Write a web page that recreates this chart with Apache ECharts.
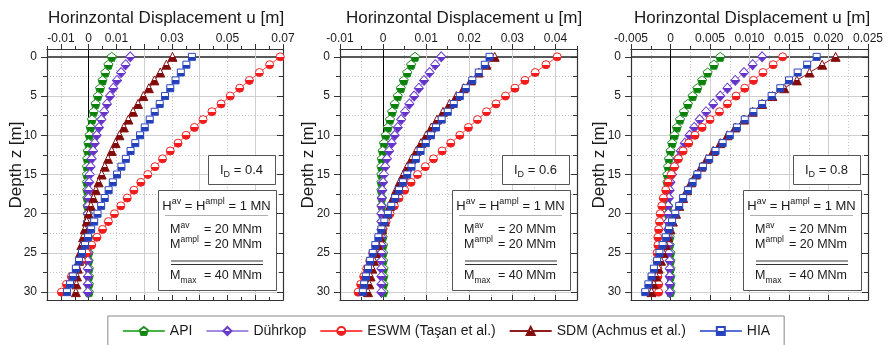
<!DOCTYPE html>
<html>
<head>
<meta charset="utf-8">
<script src="https://cdn.jsdelivr.net/npm/echarts@6/dist/echarts.min.js"></script>
<style>
  html, body { margin: 0; padding: 0; background: #fff; }
  #chart { width: 892px; height: 345px; }
</style>
</head>
<body>
<div id="chart"></div>
<script>
// Depth below mudline [m]
const depthZ = [0,1,2,3,4,5,6,7,8,9,10,11,12,13,14,15,16,17,18,19,20,21,22,23,24,25,26,27,28,29,30];

// Horizontal displacement u [m], relative density I_D = 0.4
const api04  = [0.0083,0.0071,0.0060,0.0050,0.0041,0.0033,0.0025,0.0018,0.0012,0.0007,0.0003,-0.0001,-0.0003,-0.0005,-0.0006,-0.0006,-0.0006,-0.0005,-0.0005,-0.0004,-0.0003,-0.0003,-0.0002,-0.0001,-0.0001,0.0000,0.0000,0.0001,0.0001,0.0001,0.0001];
const duhr04 = [0.0150,0.0133,0.0117,0.0102,0.0089,0.0077,0.0066,0.0056,0.0046,0.0037,0.0029,0.0022,0.0016,0.0011,0.0007,0.0004,0.0002,0.0000,-0.0001,-0.0002,-0.0003,-0.0003,-0.0003,-0.0003,-0.0003,-0.0003,-0.0003,-0.0003,-0.0003,-0.0003,-0.0003];
const eswm04 = [0.0690,0.0652,0.0615,0.0579,0.0544,0.0510,0.0477,0.0444,0.0412,0.0381,0.0351,0.0322,0.0294,0.0266,0.0239,0.0213,0.0188,0.0163,0.0139,0.0116,0.0093,0.0071,0.0050,0.0030,0.0011,-0.0008,-0.0026,-0.0044,-0.0062,-0.0080,-0.0098];
const sdm04  = [0.0302,0.0280,0.0258,0.0237,0.0217,0.0197,0.0178,0.0160,0.0143,0.0127,0.0111,0.0097,0.0083,0.0070,0.0058,0.0047,0.0036,0.0026,0.0017,0.0008,0.0000,-0.0007,-0.0014,-0.0020,-0.0026,-0.0031,-0.0035,-0.0039,-0.0042,-0.0044,-0.0046];
const hia04  = [0.0372,0.0352,0.0332,0.0313,0.0294,0.0275,0.0256,0.0238,0.0220,0.0202,0.0185,0.0168,0.0151,0.0134,0.0118,0.0102,0.0087,0.0072,0.0058,0.0045,0.0032,0.0020,0.0009,-0.0002,-0.0013,-0.0024,-0.0035,-0.0046,-0.0057,-0.0067,-0.0078];

// I_D = 0.6
const api06  = [0.0074,0.0065,0.0056,0.0048,0.0041,0.0034,0.0027,0.0021,0.0016,0.0011,0.0006,0.0002,-0.0001,-0.0003,-0.0004,-0.0004,-0.0004,-0.0004,-0.0003,-0.0003,-0.0002,-0.0002,-0.0001,-0.0001,0.0000,0.0000,0.0000,0.0001,0.0001,0.0001,0.0001];
const duhr06 = [0.0135,0.0121,0.0108,0.0095,0.0083,0.0072,0.0061,0.0051,0.0042,0.0034,0.0027,0.0020,0.0014,0.0009,0.0005,0.0002,0.0000,-0.0002,-0.0003,-0.0004,-0.0004,-0.0004,-0.0004,-0.0004,-0.0004,-0.0004,-0.0004,-0.0004,-0.0004,-0.0004,-0.0004];
const eswm06 = [0.0404,0.0378,0.0353,0.0329,0.0306,0.0284,0.0262,0.0240,0.0219,0.0198,0.0178,0.0157,0.0137,0.0117,0.0098,0.0080,0.0065,0.0050,0.0037,0.0026,0.0016,0.0007,-0.0001,-0.0009,-0.0017,-0.0024,-0.0031,-0.0038,-0.0045,-0.0052,-0.0058];
const sdm06  = [0.0259,0.0240,0.0222,0.0204,0.0187,0.0170,0.0154,0.0139,0.0125,0.0112,0.0100,0.0088,0.0077,0.0066,0.0056,0.0047,0.0038,0.0030,0.0023,0.0016,0.0010,0.0004,-0.0002,-0.0007,-0.0012,-0.0017,-0.0021,-0.0025,-0.0029,-0.0032,-0.0035];
const hia06  = [0.0247,0.0236,0.0222,0.0207,0.0192,0.0178,0.0164,0.0150,0.0136,0.0123,0.0111,0.0099,0.0087,0.0076,0.0066,0.0056,0.0046,0.0037,0.0028,0.0019,0.0011,0.0003,-0.0004,-0.0011,-0.0018,-0.0024,-0.0030,-0.0035,-0.0040,-0.0044,-0.0047];

// I_D = 0.8
const api08  = [0.0063,0.0055,0.0047,0.0040,0.0034,0.0028,0.0022,0.0017,0.0012,0.0008,0.0005,0.0002,0.0000,-0.0002,-0.0003,-0.0004,-0.0004,-0.0004,-0.0004,-0.0003,-0.0003,-0.0002,-0.0002,-0.0001,-0.0001,0.0000,0.0000,0.0000,0.0000,0.0000,0.0000];
const duhr08 = [0.0116,0.0104,0.0093,0.0082,0.0072,0.0063,0.0054,0.0045,0.0037,0.0030,0.0024,0.0018,0.0013,0.0009,0.0005,0.0002,0.0000,-0.0001,-0.0002,-0.0003,-0.0003,-0.0003,-0.0003,-0.0003,-0.0002,-0.0002,-0.0001,-0.0001,-0.0001,-0.0001,-0.0001];
const eswm08 = [0.0142,0.0130,0.0117,0.0105,0.0094,0.0083,0.0072,0.0062,0.0050,0.0040,0.0031,0.0023,0.0016,0.0010,0.0005,0.0001,-0.0003,-0.0006,-0.0009,-0.0011,-0.0013,-0.0014,-0.0015,-0.0016,-0.0016,-0.0017,-0.0017,-0.0016,-0.0016,-0.0015,-0.0015];
const sdm08  = [0.0209,0.0192,0.0176,0.0160,0.0144,0.0129,0.0116,0.0104,0.0093,0.0082,0.0072,0.0063,0.0054,0.0046,0.0039,0.0032,0.0026,0.0021,0.0016,0.0011,0.0007,0.0003,0.0000,-0.0003,-0.0006,-0.0009,-0.0012,-0.0015,-0.0018,-0.0021,-0.0024];
const hia08  = [0.0185,0.0173,0.0161,0.0150,0.0139,0.0128,0.0116,0.0105,0.0094,0.0084,0.0075,0.0066,0.0057,0.0049,0.0041,0.0034,0.0028,0.0022,0.0016,0.0011,0.0006,0.0002,-0.0002,-0.0006,-0.0010,-0.0014,-0.0017,-0.0021,-0.0024,-0.0028,-0.0032];

// Tick labels
const xTickLabels04 = [-0.01, 0, 0.01, 0.03, 0.05, 0.07];
const xTickLabels06 = [-0.01, 0, 0.01, 0.02, 0.03, 0.04];
const xTickLabels08 = [-0.005, 0, 0.005, 0.010, 0.015, 0.020, 0.025];
const yTickLabels = [0, 5, 10, 15, 20, 25, 30];

const seriesNames = ['API', 'Dührkop', 'ESWM (Taşan et al.)', 'SDM (Achmus et al.)', 'HIA'];
const densityLabels = ['0.4', '0.6', '0.8'];

const FONT = "'Liberation Sans', Arial, Helvetica, sans-serif";
const TXT = '#1a1a1a';
const FRAME = { color: '#333', width: 1.2 };

function steps(a, b, s) {
  const out = [];
  const n = Math.round((b - a) / s);
  for (let i = 0; i <= n; i++) out.push(+(a + i * s).toFixed(6));
  return out;
}

const panels = [
  { left: 47, width: 236, xMin: -0.015, xMax: 0.07, labels: xTickLabels04, dec: 2,
    major: steps(-0.01, 0.07, 0.01), minor: steps(-0.015, 0.065, 0.01),
    solid: [0.02, 0.04, 0.06], dotted: [-0.01, 0.01, 0.03, 0.05],
    data: [api04, duhr04, eswm04, sdm04, hia04], titleX: 166, depthX: 16 },
  { left: 340, width: 237, xMin: -0.01, xMax: 0.045, labels: xTickLabels06, dec: 2,
    major: steps(-0.01, 0.04, 0.01), minor: steps(-0.005, 0.045, 0.01),
    solid: steps(0.01, 0.04, 0.01), dotted: steps(-0.005, 0.035, 0.01),
    data: [api06, duhr06, eswm06, sdm06, hia06], titleX: 464, depthX: 308 },
  { left: 631, width: 237, xMin: -0.005, xMax: 0.025, labels: xTickLabels08, dec: 3,
    major: steps(-0.005, 0.025, 0.005), minor: steps(-0.0025, 0.0225, 0.005),
    solid: steps(0.005, 0.02, 0.005), dotted: steps(-0.0025, 0.0225, 0.005),
    data: [api08, duhr08, eswm08, sdm08, hia08], titleX: 752, depthX: 599 }
];

const GRID_TOP = 49, GRID_H = 251;
const Y_MIN = -1, Y_MAX = 31;
const yMajor = steps(0, 30, 5), yMinor = steps(2.5, 27.5, 5);

const solidGrid = { color: '#cfcfcf', width: 1, type: 'solid' };
const dottedGrid = { color: '#c4c4c4', width: 1, type: [1, 2] };

// Builds one value axis; only the parts asked for are shown
function axis(dim, gi, pos, o) {
  const isX = dim === 'x';
  return {
    type: 'value', gridIndex: gi, position: pos,
    min: isX ? o.min : Y_MIN, max: isX ? o.max : Y_MAX,
    inverse: !isX,
    axisLine: { show: !!o.line, onZero: false, lineStyle: FRAME },
    axisTick: { show: !!o.ticks, customValues: o.ticks || o.lines || [0],
      inside: !!o.inside, length: o.len || 4, lineStyle: { color: '#333', width: 1 } },
    axisLabel: o.labels ? { show: true, customValues: o.labels, formatter: o.fmt,
      margin: isX ? 4 : 10, fontSize: 12, color: TXT, fontFamily: FONT } : { show: false },
    splitLine: o.split ? { show: true, lineStyle: o.split } : { show: false }
  };
}

const xAxes = [], yAxes = [], grids = [], series = [];
const markers = [
  { symbol: 'path://M0,-10L9.51,-3.09L5.88,8.09L-5.88,8.09L-9.51,-3.09Z', size: 9, line: '#45b345', fill: '#0b800b', edge: '#1c8c1c' },
  { symbol: 'diamond', size: [9, 10], line: '#a58ce0', fill: '#6434c8', edge: '#6a3ccc' },
  { symbol: 'circle', size: 8, line: '#ff4a4a', fill: '#f21c1c', edge: '#ee2222' },
  { symbol: 'triangle', size: 9, line: '#8e1d1d', fill: '#820a0a', edge: '#861010' },
  { symbol: 'rect', size: 7, line: '#5a6fd6', fill: '#2440b8', edge: '#2a46c0' }
];

function halfFill(c) {
  return { type: 'linear', x: 0, y: 0, x2: 0, y2: 1, colorStops: [
    { offset: 0, color: '#ffffff' }, { offset: 0.5, color: '#ffffff' },
    { offset: 0.5, color: c }, { offset: 1, color: c } ] };
}

panels.forEach((p, gi) => {
  grids.push({ left: p.left, top: GRID_TOP, width: p.width, height: GRID_H,
    containLabel: false, outerBoundsMode: 'none' });
  const fmt = v => Math.abs(v) < 1e-12 ? '0' : v.toFixed(p.dec);
  const xr = { min: p.xMin, max: p.xMax };

  const xMain = xAxes.length;
  xAxes.push(axis('x', gi, 'top', Object.assign({ line: true, ticks: p.major, len: 5, labels: p.labels, fmt }, xr)));
  xAxes.push(axis('x', gi, 'top', Object.assign({ ticks: p.minor, len: 3 }, xr)));
  xAxes.push(axis('x', gi, 'bottom', Object.assign({ line: true, ticks: p.major, len: 5, inside: true }, xr)));
  xAxes.push(axis('x', gi, 'bottom', Object.assign({ ticks: p.minor, len: 3, inside: true }, xr)));
  xAxes.push(axis('x', gi, 'bottom', Object.assign({ lines: p.solid, split: solidGrid }, xr)));
  xAxes.push(axis('x', gi, 'bottom', Object.assign({ lines: p.dotted, split: dottedGrid }, xr)));
  xAxes.push(axis('x', gi, 'bottom', Object.assign({ lines: [0], split: { color: '#000', width: 1 } }, xr)));

  const yMain = yAxes.length;
  yAxes.push(axis('y', gi, 'left', { line: true, ticks: yMajor, len: 6, labels: yTickLabels, fmt: v => String(v) }));
  yAxes.push(axis('y', gi, 'left', { ticks: yMinor, len: 4 }));
  yAxes.push(axis('y', gi, 'right', { line: true, ticks: yMajor, len: 6, inside: true }));
  yAxes.push(axis('y', gi, 'right', { ticks: yMinor, len: 4, inside: true }));
  yAxes.push(axis('y', gi, 'right', { lines: yMajor.slice(1), split: solidGrid }));
  yAxes.push(axis('y', gi, 'right', { lines: yMinor, split: dottedGrid }));
  yAxes.push(axis('y', gi, 'right', { lines: [0], split: { color: '#222', width: 1.5 } }));

  p.data.forEach((vals, si) => {
    const m = markers[si];
    series.push({
      type: 'line', name: seriesNames[si],
      xAxisIndex: xMain, yAxisIndex: yMain,
      data: vals.map((u, i) => [u, depthZ[i]]),
      symbol: m.symbol, symbolSize: m.size, showSymbol: true,
      lineStyle: { color: m.line, width: 1 },
      itemStyle: { color: halfFill(m.fill), borderColor: m.edge, borderWidth: 1 },
      z: 3 + si, animation: false, silent: true
    });
  });
});

const RICH = {
  n:  { fontSize: 13, fontFamily: FONT, fill: TXT, lineHeight: 18 },
  sp: { fontSize: 9, fontFamily: FONT, fill: TXT, lineHeight: 10, verticalAlign: 'top' },
  sb: { fontSize: 9, fontFamily: FONT, fill: TXT, lineHeight: 10, verticalAlign: 'bottom' },
  m:  { fontSize: 12.5, fontFamily: FONT, fill: TXT, lineHeight: 18 },
  mp: { fontSize: 8.5, fontFamily: FONT, fill: TXT, lineHeight: 10, verticalAlign: 'top' },
  mb: { fontSize: 8.5, fontFamily: FONT, fill: TXT, lineHeight: 10, verticalAlign: 'bottom' }
};

function txt(x, y, text, align, extra) {
  return Object.assign({ type: 'text', x, y, z: 101,
    style: { text, rich: RICH, fill: TXT, align, verticalAlign: 'middle',
      textAlign: align, textVerticalAlign: 'middle' } }, extra || {});
}

const graphics = [];
panels.forEach((p, gi) => {
  const R = p.left + p.width;
  const idL = R - 75, ldL = R - 125;
  // axis titles
  graphics.push({ type: 'text', x: p.titleX, y: 18, z: 101,
    style: { text: 'Horinzontal Displacement u [m]', fontSize: 17, fontFamily: FONT, fill: TXT,
      align: 'center', verticalAlign: 'middle', textAlign: 'center', textVerticalAlign: 'middle' } });
  graphics.push({ type: 'text', x: p.depthX, y: 165, rotation: Math.PI / 2, z: 101,
    style: { text: 'Depth z [m]', fontSize: 17, fontFamily: FONT, fill: TXT,
      align: 'center', verticalAlign: 'middle', textAlign: 'center', textVerticalAlign: 'middle' } });
  // relative density box
  graphics.push({ type: 'rect', z: 100, shape: { x: idL + 0.5, y: 155.5, width: 67, height: 29 },
    style: { fill: '#fff', stroke: '#555', lineWidth: 1 } });
  graphics.push(txt(idL + 33.5, 170, '{n|I}{sb|D}{n| = ' + densityLabels[gi] + '}', 'center'));
  // loading box
  graphics.push({ type: 'rect', z: 100, shape: { x: ldL + 0.5, y: 190.5, width: 118, height: 100 },
    style: { fill: '#fff', stroke: '#555', lineWidth: 1 } });
  graphics.push(txt(ldL + 58.5, 206, '{n|H}{sp|av}{n| = H}{sp|ampl}{n| = 1 MN}', 'center'));
  graphics.push({ type: 'line', z: 101, shape: { x1: ldL + 7, y1: 215.5, x2: ldL + 110, y2: 215.5 },
    style: { stroke: '#9a9a9a', lineWidth: 0.8 } });
  graphics.push(txt(ldL + 12, 230, '{m|M}{mp|av}', 'left'));
  graphics.push(txt(ldL + 46, 230, '{m|= 20 MNm}', 'left'));
  graphics.push(txt(ldL + 12, 244.5, '{m|M}{mp|ampl}', 'left'));
  graphics.push(txt(ldL + 46, 244.5, '{m|= 20 MNm}', 'left'));
  graphics.push({ type: 'line', z: 101, shape: { x1: ldL + 13, y1: 261, x2: ldL + 105, y2: 261 },
    style: { stroke: '#333', lineWidth: 1 } });
  graphics.push({ type: 'line', z: 101, shape: { x1: ldL + 13, y1: 264.5, x2: ldL + 105, y2: 264.5 },
    style: { stroke: '#333', lineWidth: 1 } });
  graphics.push(txt(ldL + 12, 276, '{m|M}{mb|max}', 'left'));
  graphics.push(txt(ldL + 46, 276, '{m|= 40 MNm}', 'left'));
});

const chart = echarts.init(document.getElementById('chart'), null, { renderer: 'canvas' });
chart.setOption({
  animation: false,
  backgroundColor: '#ffffff',
  grid: grids,
  xAxis: xAxes,
  yAxis: yAxes,
  legend: {
    data: seriesNames, left: 'center', top: 316,
    padding: [8, 14, 8, 14], itemGap: 13, itemWidth: 42, itemHeight: 10,
    borderColor: '#888', borderWidth: 1, borderRadius: 0,
    textStyle: { fontSize: 14, fontFamily: FONT, color: TXT },
    selectedMode: false
  },
  series: series,
  graphic: graphics
});
</script>
</body>
</html>
